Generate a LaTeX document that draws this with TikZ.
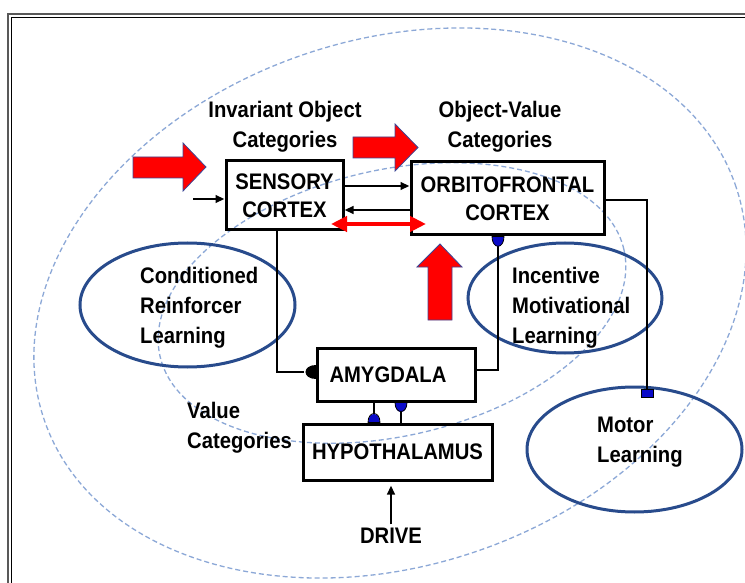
\documentclass[tikz,border=0pt]{standalone}
\usepackage{fontspec}
\setmainfont{Liberation Sans}[FakeStretch=0.9]
\usetikzlibrary{arrows.meta,shapes.geometric}
\definecolor{dashblue}{RGB}{140,168,215}
\definecolor{ellblue}{RGB}{40,75,140}
\definecolor{termblue}{RGB}{10,10,200}
\definecolor{redge}{RGB}{60,70,150}
\begin{document}
\begin{tikzpicture}[x=1pt,y=-1pt,
  every node/.style={font=\bfseries\fontsize{22.5pt}{28pt}\selectfont},
  box/.style={draw, line width=3pt, inner sep=0pt, align=center},
  lbl/.style={inner sep=0pt, align=left, anchor=north west, font=\bfseries\fontsize{22.5pt}{30pt}\selectfont},
  ctr/.style={inner sep=0pt, align=center, anchor=north, font=\bfseries\fontsize{22.5pt}{30pt}\selectfont},
  conn/.style={line width=2.3pt},
  arr/.style={-{Triangle[length=9pt,width=7.5pt]}},
  term/.style={fill=termblue, draw=black, line width=0.8pt},
  blk/.style={fill=red, draw=redge, line width=0.8pt},
  learn/.style={ellipse, draw=ellblue, line width=3pt, inner sep=0pt},
  dashell/.style={draw=dashblue, line width=1.3pt, dash pattern=on 5pt off 3pt},
]
\useasboundingbox (0,0) rectangle (745,583);
\fill[white] (0,0) rectangle (745,583);
\clip (0,0) rectangle (745,583);

% frame
\draw[black!65, line width=1.6pt] (760,14) -- (8,14) -- (8,600);
\draw[black, line width=1.2pt] (760,17.5) -- (11.5,17.5) -- (11.5,600);

% dashed ellipses
\draw[dashell, rotate around={18.5:(390,303)}] (390,303) ellipse[x radius=365pt, y radius=263pt];
\draw[dashell, rotate around={13:(392,303)}] (392,303) ellipse[x radius=238pt, y radius=133pt];

% learning ellipses
\node[learn, minimum width=215pt, minimum height=124pt] (crl) at (187.5,305) {};
\node[learn, minimum width=194pt, minimum height=110pt] (iml) at (565,298) {};
\node[learn, minimum width=215pt, minimum height=125pt] (mot) at (634.5,449.5) {};

\node[lbl] (crlt) at (140,266.6) {Conditioned\\Reinforcer\\Learning};
\node[lbl] (imlt) at (512,266.6) {Incentive\\Motivational\\Learning};
\node[lbl] (mott) at (597,416.6) {Motor\\Learning};
\node[lbl] (valt) at (187,401.6) {Value\\Categories};
\node[ctr] (iot) at (285,100.5) {Invariant Object\\Categories};
\node[ctr] (ovt) at (500,100.5) {Object-Value\\Categories};

% boxes
\node[box, minimum width=117pt, minimum height=69pt] (sens) at (284.5,195.5) {SENSORY\\CORTEX};
\node[box, minimum width=193pt, minimum height=73pt] (orb) at (507.5,198.5) {ORBITOFRONTAL\\CORTEX};
\node[box, minimum width=158pt, minimum height=53pt] (amy) at (396,374.5) {\hspace*{-16pt}AMYGDALA};
\node[box, minimum width=189pt, minimum height=56pt] (hypo) at (397.5,452) {HYPOTHALAMUS};
\node[inner sep=3pt, anchor=base] (drive) at (391,543) {DRIVE};

% red block arrows
\draw[blk] (133,157) -- (183,157) -- (183,143) -- (206,167) -- (183,191) -- (183,178) -- (133,178) -- cycle;
\draw[blk] (353,137) -- (395,137) -- (395,124) -- (418,147.5) -- (395,171) -- (395,158) -- (353,158) -- cycle;
\draw[blk] (428,320) -- (428,267) -- (417,267) -- (440,244) -- (462,267) -- (452,267) -- (452,320) -- cycle;

% coordinates
\coordinate (inp) at (193,199);
\coordinate (a1) at (0,186);
\coordinate (a2) at (0,210);
\coordinate (ra1) at (331,224);
\coordinate (ra2) at (426,224);

% connectors between cortex boxes
\draw[conn, arr] (inp) -- (sens.west |- inp);
\draw[conn, arr] (sens.east |- a1) -- (orb.west |- a1);
\draw[conn, arr] (orb.west |- a2) -- (sens.east |- a2);
\draw[red, line width=4pt, {Triangle[length=16pt,width=15pt]}-{Triangle[length=16pt,width=15pt]}] (ra1) -- (ra2);

% sensory -> amygdala
\draw[conn] (sens.south -| 277,0) |- (304,372);
\fill[black] (315.5,365) .. controls (302,365) and (302,379) .. (315.5,379) -- cycle;

% amygdala -> orbitofrontal
\draw[conn] (amy.east |- 0,370) -| (498,246);
\draw[term] (492,236.5) .. controls (492,249.5) and (504,249.5) .. (504,236.5) -- cycle;

% orbitofrontal -> motor learning
\draw[conn] (orb.east |- 0,200) -| (647,389);
\draw[term] (641,389) rectangle (653,397);

% amygdala <-> hypothalamus
\draw[conn] (amy.south -| 374,0) -- (374,414);
\draw[term] (368,422.5) .. controls (368,410.5) and (380,410.5) .. (380,422.5) -- cycle;
\draw[conn] (hypo.north -| 401,0) -- (401,411);
\draw[term] (395,402.5) .. controls (395,414.5) and (407,414.5) .. (407,402.5) -- cycle;

% drive
\draw[conn, arr, shorten >=4pt] (drive.north) -- (drive.north |- hypo.south);
\end{tikzpicture}
\end{document}
